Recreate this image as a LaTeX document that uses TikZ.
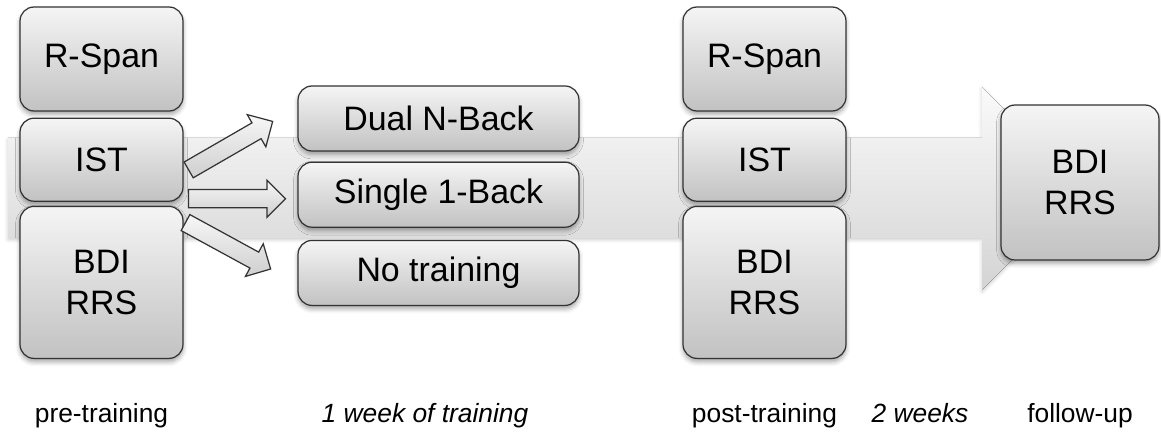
\documentclass[tikz,border=0pt]{standalone}
\usepackage{fontspec}
\setmainfont{Liberation Sans}
\usetikzlibrary{positioning,shapes.arrows,shadows.blur}

\begin{document}
\begin{tikzpicture}[x=0.02cm,y=-0.02cm,
    box/.style={draw=black!80, line width=0.7pt, rounded corners=0.28cm,
        top color=gray!8, bottom color=gray!48, align=center,
        font=\fontsize{19.3}{23.6}\selectfont, minimum width=3.26cm,
        blur shadow={shadow xshift=0pt, shadow yshift=-2pt, shadow blur radius=2.5pt, shadow opacity=35}},
    wide/.style={minimum width=5.62cm, minimum height=1.3cm},
    blockarr/.style={single arrow, draw=black!80, line width=0.7pt,
        top color=gray!6, bottom color=gray!38, minimum height=1.94cm,
        inner xsep=0pt, inner ysep=0.17cm,
        single arrow head extend=0.19cm, single arrow head indent=0pt},
    lbl/.style={font=\fontsize{15}{18}\selectfont, anchor=base}]

    \useasboundingbox (0,0) rectangle (1161,432);

    % time line in the background
    \fill[top color=gray!4, bottom color=gray!34,
        blur shadow={shadow xshift=0pt, shadow yshift=-1pt, shadow blur radius=2pt, shadow opacity=20}]
        (8,138) -- (982,138) -- (982,87) -- (1083,188.5) -- (982,290)
        -- (982,238) -- (8,238) -- cycle;

    % pre-training
    \node[box, minimum height=2.08cm] (rspanA) at (101.5,59) {R-Span};
    \node[box, minimum height=1.66cm, below=0.12cm of rspanA] (istA) {IST};
    \node[box, minimum height=3.04cm, below=0.08cm of istA] (bdiA) {BDI\\RRS};

    % training groups
    \node[box, wide] (dual) at (438.5,118.5) {Dual N-Back};
    \node[box, wide, below=0.2cm of dual] (single) {Single 1-Back};
    \node[box, wide, below=0.24cm of single] (none) {No training};

    % post-training
    \node[box, minimum height=2.08cm] (rspanB) at (764.5,59) {R-Span};
    \node[box, minimum height=1.66cm, below=0.12cm of rspanB] (istB) {IST};
    \node[box, minimum height=3.04cm, below=0.08cm of istB] (bdiB) {BDI\\RRS};

    % follow-up
    \node[box, minimum width=3.16cm, minimum height=3.1cm] (bdiC) at (1080,182.5) {BDI\\RRS};

    % assignment arrows
    \node[blockarr, rotate=30, anchor=tip] (toDual) at ([shift={(-24,2.5)}]dual.west) {};
    \node[blockarr, anchor=tip] (toSingle) at ([shift={(-11,4)}]single.west) {};
    \node[blockarr, rotate=-28.6, anchor=tip] (toNone) at ([shift={(-26,-3.5)}]none.west) {};

    % phases
    \node[lbl] (pre) at (101.5,423) {pre-training};
    \node[lbl, font=\fontsize{15}{18}\selectfont\itshape] (week) at (425,423) {1 week of training};
    \node[lbl] (post) at (764.5,423) {post-training};
    \node[lbl, font=\fontsize{15}{18}\selectfont\itshape] (weeks) at (920,423) {2 weeks};
    \node[lbl] (fup) at (1080,423) {follow-up};
\end{tikzpicture}
\end{document}
